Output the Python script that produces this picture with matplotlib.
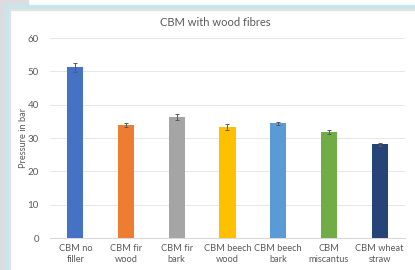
import matplotlib.pyplot as plt
from matplotlib.patches import Rectangle
import numpy as np

categories = ['CBM no\nfiller', 'CBM fir\nwood', 'CBM fir\nbark', 'CBM beech\nwood',
              'CBM beech\nbark', 'CBM\nmiscantus', 'CBM wheat\nstraw']
pressure = [51.2, 33.8, 36.4, 33.2, 34.4, 31.8, 28.1]
errors = [1.4, 0.6, 0.9, 0.9, 0.5, 0.6, 0.4]
colors = ['#4472C4', '#ED7D31', '#A5A5A5', '#FFC000', '#5B9BD5', '#70AD47', '#264478']

plt.rcParams['font.family'] = ['Lato', 'DejaVu Sans']

fig = plt.figure(figsize=(4.15, 2.7), dpi=100)
W, H = 415, 270

# frame around the chart (gray strip + cyan border)
def box(x, y, w, h, c):
    fig.patches.append(Rectangle((x / W, 1 - (y + h) / H), w / W, h / H,
                                 transform=fig.transFigure, color=c, zorder=0))

box(0, 0, 5, 270, '#DCDCE0')
box(0, 0, 28, 5, '#DCDCE0')
box(5, 5, 410, 3, '#C4E7EB')
box(5, 5, 3, 265, '#C4E7EB')
box(9, 9, 406, 0.8, '#E6E0E0')
box(9, 9, 0.8, 261, '#E6E0E0')

ax = fig.add_axes([50 / W, 1 - 238 / H, 355 / W, 200 / H])
x = np.arange(len(categories))
ax.bar(x, pressure, width=0.32, color=colors, zorder=3,
       yerr=errors, error_kw=dict(ecolor='#595959', elinewidth=0.7, capsize=1.5, capthick=0.7))

ax.set_xlim(-0.5, len(categories) - 0.5)
ax.set_ylim(0, 60)
ax.set_yticks(range(0, 61, 10))
ax.set_xticks(x)
ax.set_xticklabels(categories, fontsize=6.7, color='#595959', linespacing=1.3)
ax.tick_params(axis='y', labelsize=7, colors='#595959', length=0, pad=8)
ax.tick_params(axis='x', length=0, pad=4)
ax.grid(axis='y', color='#E6E6E6', linewidth=0.7, zorder=0)
for s in ['top', 'right', 'left']:
    ax.spines[s].set_visible(False)
ax.spines['bottom'].set_color('#D9D9D9')
ax.spines['bottom'].set_linewidth(0.8)
ax.set_facecolor('none')

ax.set_ylabel('Pressure in bar', fontsize=6.7, color='#595959')
ax.yaxis.set_label_coords((28 - 50) / 355, 0.5)
fig.text(215 / W, 1 - 22 / H, 'CBM with wood fibres', fontsize=8, color='#595959',
         ha='center', va='center')

plt.savefig('out.png', dpi=100)
